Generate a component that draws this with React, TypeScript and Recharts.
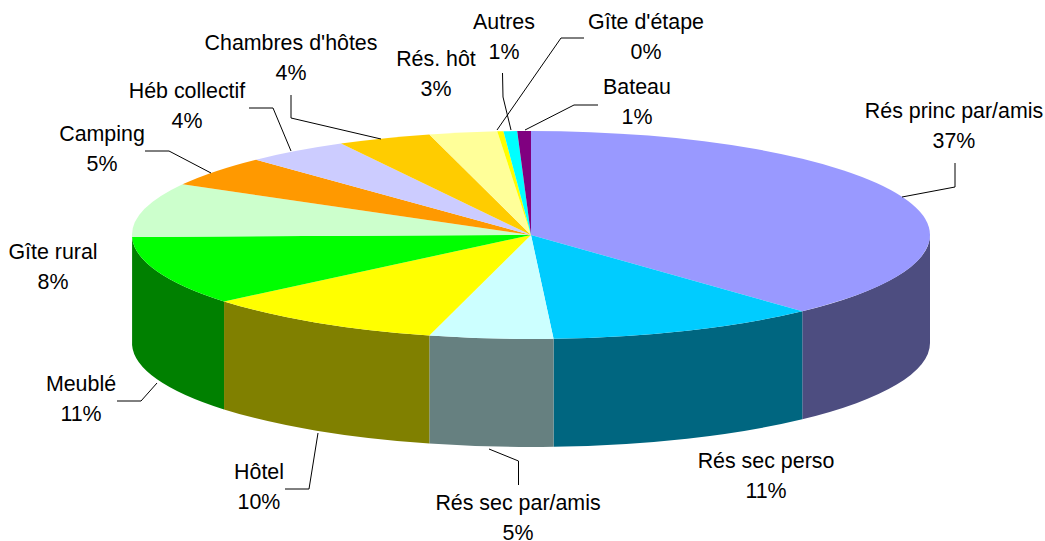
import React from 'react';
import { PieChart, Pie } from 'recharts';

const categories = [
  'Rés princ par/amis', 'Rés sec perso', 'Rés sec par/amis', 'Hôtel', 'Meublé', 'Gîte rural', 'Camping',
  'Héb collectif', "Chambres d'hôtes", 'Rés. hôt', "Gîte d'étape", 'Autres', 'Bateau',
];
// share of the ellipse each slice takes in the picture
const shares = [38.1, 11, 5, 9.87, 10.73, 8.4, 4.8, 4.2, 3.8, 2.75, 0.25, 0.55, 0.55];
// printed percentages
const percents = ['37%', '11%', '5%', '10%', '11%', '8%', '5%', '4%', '4%', '3%', '0%', '1%', '1%'];
const topColors = ['#9999FF', '#00CCFF', '#CCFFFF', '#FFFF00', '#00FF00', '#CCFFCC', '#FF9900', '#CCCCFF', '#FFCC00', '#FFFF99', '#FFFF00', '#00FFFF', '#800080'];
const wallColors = ['#4D4D80', '#006680', '#668080', '#808000', '#008000', '#668066', '#804D00', '#666680', '#806600', '#80804D', '#808000', '#008080', '#400040'];

const labelCenters = [
  [954, 111], [766, 461], [518, 502.5], [259, 472], [81, 384], [53, 252], [102, 134],
  [187, 91], [291, 43], [436, 59], [646, 22], [504, 22], [637, 87],
];
const leaders = [
  '955,163 955,187 902,197',
  '',
  '518.5,485 518.5,461 489,449',
  '285,489 309,489 318,433',
  '117,401 141,401 157,383',
  '',
  '145,151 169,151 211,173',
  '249,108 273,108 291,151',
  '291,95 291,118 381,139',
  '',
  '584,38 561,38 497,130',
  '502.5,73 503,97 511,130',
  '598,105 574,105 525,130',
];

const W = 1045;
const H = 541;
const CX = 531;
const CY = 235;
const RX = 399;
const RY = 104;
const DEPTH = 108;

const rad = (a: number) => (a * Math.PI) / 180;
const px = (cx: number, r: number, a: number) => cx + r * Math.cos(rad(a));
const py = (cy: number, r: number, a: number) => cy - (r * RY / RX) * Math.sin(rad(a));

const tableData = categories.map((name, i) => ({ name, value: shares[i], percent: percents[i], fill: topColors[i], wall: wallColors[i] }));

// flat slice: the pie's own sector squashed to an ellipse
const TopSlice = (props: any) => {
  const { cx, cy, outerRadius: r, startAngle, endAngle, fill } = props;
  const large = Math.abs(endAngle - startAngle) > 180 ? 1 : 0;
  const ry = r * RY / RX;
  const d = `M${cx},${cy} L${px(cx, r, startAngle)},${py(cy, r, startAngle)} A${r},${ry} 0 ${large} 1 ${px(cx, r, endAngle)},${py(cy, r, endAngle)} Z`;
  return <path d={d} fill={fill} stroke="none" />;
};

// side wall, only for the part of a slice that faces the viewer
const WallSlice = (props: any) => {
  const { cx, cy, outerRadius: r, startAngle, endAngle, payload } = props;
  const from = Math.min(startAngle, 0);
  const to = Math.max(endAngle, -180);
  if (from <= to) return <g />;
  const ry = r * RY / RX;
  const wall = payload?.wall ?? props.wall;
  const d = `M${px(cx, r, from)},${py(cy, r, from)} A${r},${ry} 0 0 1 ${px(cx, r, to)},${py(cy, r, to)} L${px(cx, r, to)},${py(cy, r, to) + DEPTH} A${r},${ry} 0 0 0 ${px(cx, r, from)},${py(cy, r, from) + DEPTH} Z`;
  return <path d={d} fill={wall} stroke="none" />;
};

const renderLabel = (props: any) => {
  const { index } = props;
  const [x, y] = labelCenters[index];
  return (
    <g key={index}>
      {leaders[index] && <polyline points={leaders[index]} fill="none" stroke="#000" strokeWidth={1} />}
      <text x={x} y={y} textAnchor="middle" dominantBaseline="central" fontFamily="Liberation Sans, Arial, sans-serif" fontSize={21.4} fill="#000">
        {categories[index]}
      </text>
      <text x={x} y={y + 30} textAnchor="middle" dominantBaseline="central" fontFamily="Liberation Sans, Arial, sans-serif" fontSize={21.4} fill="#000">
        {percents[index]}
      </text>
    </g>
  );
};

export default function App() {
  return (
    <div style={{ position: 'absolute', left: 0, top: 0, width: W, height: H, background: '#fff', overflow: 'hidden' }}>
      <PieChart width={W} height={H} margin={{ top: 0, right: 0, bottom: 0, left: 0 }}>
        <Pie
          data={tableData}
          dataKey="value"
          cx={CX}
          cy={CY}
          outerRadius={RX}
          startAngle={90}
          endAngle={-270}
          stroke="none"
          shape={WallSlice}
          isAnimationActive={false}
        />
        <Pie
          data={tableData}
          dataKey="value"
          cx={CX}
          cy={CY}
          outerRadius={RX}
          startAngle={90}
          endAngle={-270}
          stroke="none"
          shape={TopSlice}
          label={renderLabel}
          labelLine={false}
          isAnimationActive={false}
        />
      </PieChart>
    </div>
  );
}
